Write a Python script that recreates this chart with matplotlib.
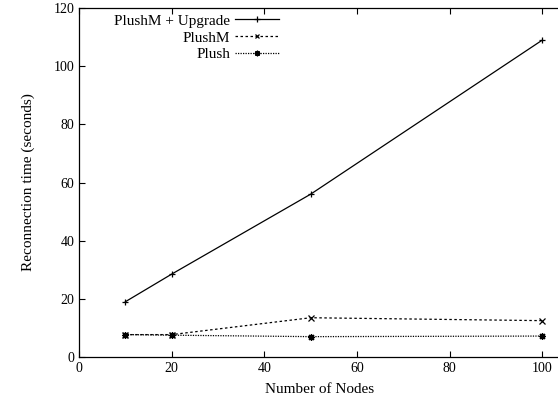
import matplotlib
matplotlib.use('Agg')
import matplotlib.pyplot as plt

# datos
nodos = [10, 20, 50, 100]
upgrade = [19.0, 28.5, 56.0, 109.0]
plushm = [7.7, 7.7, 13.5, 12.5]
plush = [7.7, 7.5, 7.0, 7.2]

etiquetas = ['PlushM + Upgrade', 'PlushM', 'Plush']

plt.rcParams['font.family'] = 'Liberation Serif'
plt.rcParams['font.size'] = 10

fig = plt.figure(figsize=(5.58, 4.04), dpi=100)
ax = fig.add_axes([79/558, 47/404, 482/558, 349/404])

ax.plot(nodos, upgrade, color='black', lw=0.9, marker='+', ms=5, mew=0.9,
        label=etiquetas[0])
ax.plot(nodos, plushm, color='black', lw=0.9, ls=(0, (2, 2)), marker='x',
        ms=4, mew=0.9, label=etiquetas[1])
ax.plot(nodos, plush, color='black', lw=0.9, ls=(0, (1, 1)), marker=(8, 2, 0),
        ms=5, mew=0.9, label=etiquetas[2])

ax.set_xlim(0, 104)
ax.set_ylim(0, 120)
ax.set_xticks([0, 20, 40, 60, 80, 100])
ax.set_yticks([0, 20, 40, 60, 80, 100, 120])
ax.tick_params(direction='in', length=4, width=0.8, top=True, right=False)
ax.spines['right'].set_visible(False)
for s in ['left', 'top', 'bottom']:
    ax.spines[s].set_linewidth(0.9)

ax.set_xlabel('Number of Nodes', fontsize=11, labelpad=6)
ax.set_ylabel('Reconnection time (seconds)', fontsize=11, labelpad=13)

ax.legend(loc='upper right', bbox_to_anchor=(0.428, 1.0), frameon=False,
          markerfirst=False, handlelength=2.9, labelspacing=0.2,
          handletextpad=0.3, borderaxespad=0.0, borderpad=0.4,
          fontsize=11, markerscale=0.8)

plt.savefig('out.png', dpi=100)
